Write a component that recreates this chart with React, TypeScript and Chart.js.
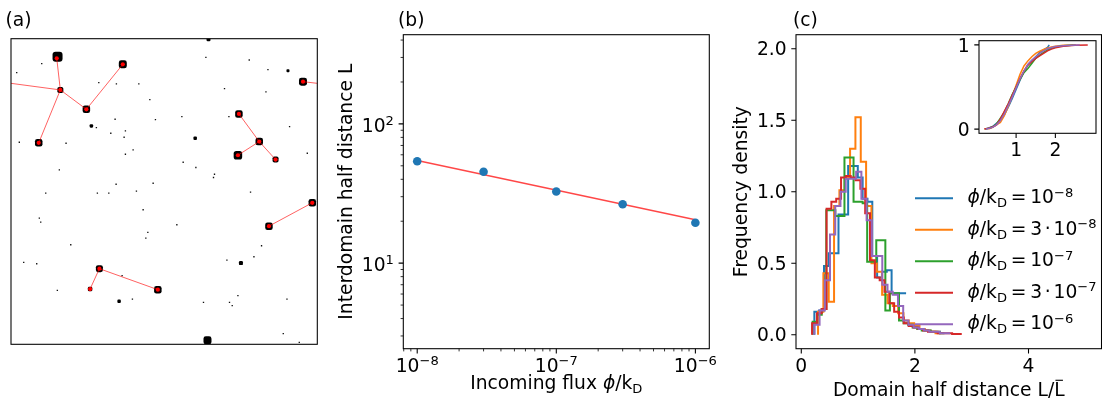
import React, { useEffect, useRef } from 'react';
import { Chart, registerables } from 'chart.js';

Chart.register(...registerables);

const FIG_W = 1102;
const FIG_H = 403;
const FONT = '"DejaVu Sans"';
const FS = 18.7;
const SERIES_COLORS = ['#1f77b4', '#ff7f0e', '#2ca02c', '#d62728', '#9467bd'];

// ---------------- panel (a): domain snapshot (box coordinates, y downwards) ----------------
const domainX = [46.5, 111.7, 49.3, 75.3, 27.7, 291.7, 227.7, 248, 226.7, 264.3, 301, 257.7, 88.3, 79, 146.7, 196.3, 197.3, 184, 80.3, 229.7, 108, 276.7];
const domainY = [18, 25.7, 51.3, 70.7, 104.3, 43, 75.3, 103, 116.7, 121, 164.3, 187.7, 230.3, 250.7, 251.3, 302, 0.5, 99.7, 87.3, 224.7, 263, 32];
const domainSide = [10, 8, 6, 7.5, 7.5, 8, 7.5, 7.5, 8.5, 6, 7.5, 7.5, 7, 4.5, 7.5, 8, 4, 3.5, 3.5, 4, 3.5, 3];
const dotX = [194.7, 238, 256.7, 30.7, 5.7, 87.7, 105.3, 127.7, 213.3, 254.7, 138.7, 170.7, 217.7, 144.3, 104, 278.3, 85.3, 114.3, 99.7, 113, 55, 8.3, 122, 114.3, 296, 172, 184.7, 48.3, 203.3, 202.3, 105, 142, 125.3, 34.7, 86.3, 97.7, 239.3, 132, 28.3, 29.7, 165.7, 136.7, 134.7, 59.7, 250.3, 242.7, 215.7, 12.7, 25.7, 111, 46.3, 121.3, 192.3, 226.7, 218.3, 221, 275.7, 272, 288];
const dotY = [18.7, 21.3, 31, 25, 34, 44, 45.3, 45.3, 50, 53.3, 61, 78, 78, 81, 80.7, 88, 89, 92.3, 94.7, 98.7, 104.7, 103.7, 111.3, 115.7, 114.7, 123.7, 129, 131.3, 135.7, 139, 145.7, 144.7, 152.7, 154.7, 154.7, 154.7, 153.7, 171.3, 179.7, 183.7, 186.3, 194, 199.7, 206.3, 207.3, 218.3, 221.7, 224, 225.3, 237.3, 252, 260.7, 264, 257.3, 264, 267.3, 260.7, 295.3, 304];
// domain centres (first 15 carry a red marker, last two are where links leave the box)
const nodeX = [45.7, 49.3, 27.7, 75.3, 111.7, 291.7, 227.7, 248, 226.7, 264.3, 301, 257.7, 88.3, 79, 146.7, 0, 306];
const nodeY = [19.7, 51.3, 104.3, 70.7, 25.7, 43, 75.3, 103, 116.7, 121, 164.3, 187.7, 230.3, 250.7, 251.3, 44.7, 44.7];
const MARKED_NODES = 15;
const linkFrom = [15, 0, 1, 1, 3, 5, 6, 7, 7, 10, 12, 12];
const linkTo = [1, 1, 2, 3, 4, 16, 7, 8, 9, 11, 14, 13];

// ---------------- panel (b): half distance vs flux ----------------
const fluxValues = [1e-8, 3e-8, 1e-7, 3e-7, 1e-6];
const halfDistance = [53.9, 45.3, 32.7, 26.5, 19.5];
const fitFlux = [1e-8, 1e-6];
const fitHalfDistance = [54.6, 20.5];
const bXMajor = [1e-8, 1e-7, 1e-6];
const bXLabels = ['−8', '−7', '−6'];
const bXMinor = [8e-9, 9e-9, 2e-8, 3e-8, 4e-8, 5e-8, 6e-8, 7e-8, 8e-8, 9e-8, 2e-7, 3e-7, 4e-7, 5e-7, 6e-7, 7e-7, 8e-7, 9e-7];
const bYMajor = [10, 100];
const bYLabels = ['1', '2'];
const bYMinor = [3, 4, 5, 6, 7, 8, 9, 20, 30, 40, 50, 60, 70, 80, 90, 200, 300, 400];

// ---------------- panel (c): histograms of L / mean L ----------------
const seriesLabels = ['1e-8', '3e-8', '1e-7', '3e-7', '1e-6'];
const seriesPrefix = ['', '3', '', '3', ''];
const seriesExponent = ['−8', '−8', '−7', '−7', '−6'];
const edges1e8 = [0.23, 0.315, 0.4, 0.485, 0.57, 0.655, 0.74, 0.825, 0.91, 0.995, 1.08, 1.165, 1.25, 1.335, 1.42, 1.505, 1.59, 1.675, 1.76, 1.845];
const dens1e8 = [0.16, 0.17, 0.48, 0.57, 0.57, 0.84, 0.84, 1.18, 1.18, 1.1, 0.95, 0.93, 0.55, 0.4, 0.44, 0.45, 0.29, 0.29, 0.29];
const edges3e8 = [0.295, 0.389, 0.483, 0.577, 0.671, 0.765, 0.859, 0.953, 1.047, 1.141, 1.235, 1.329, 1.423, 1.517, 1.611, 1.705, 1.799, 1.893, 1.987, 2.081, 2.175, 2.269, 2.363, 2.457];
const dens3e8 = [0.16, 0.43, 0.23, 0.9, 1.01, 1.1, 1.3, 1.52, 1.21, 0.9, 0.5, 0.44, 0.28, 0.22, 0.2, 0.15, 0.1, 0.08, 0.06, 0.04, 0.03, 0.02, 0.01];
const edges1e7 = [0.2, 0.28, 0.36, 0.44, 0.52, 0.6, 0.68, 0.76, 0.84, 0.92, 1.0, 1.08, 1.16, 1.24, 1.32, 1.4, 1.48, 1.56, 1.64, 1.72, 1.8, 1.88, 1.96, 2.04, 2.12, 2.2, 2.28, 2.36, 2.44, 2.52];
const dens1e7 = [0.09, 0.14, 0.18, 0.87, 0.87, 0.83, 0.83, 1.24, 1.24, 0.93, 0.93, 0.92, 0.51, 0.51, 0.66, 0.66, 0.17, 0.29, 0.29, 0.1, 0.08, 0.07, 0.05, 0.04, 0.03, 0.03, 0.02, 0.02, 0.01];
const edges3e7 = [0.19, 0.275, 0.36, 0.445, 0.53, 0.615, 0.7, 0.785, 0.87, 0.955, 1.04, 1.125, 1.21, 1.295, 1.38, 1.465, 1.55, 1.635, 1.72, 1.805, 1.89, 1.975, 2.06, 2.145, 2.23, 2.315, 2.4, 2.485, 2.57, 2.655, 2.74, 2.825];
const dens3e7 = [0.08, 0.15, 0.18, 0.88, 0.93, 0.95, 1.1, 1.11, 1.1, 1.08, 1.02, 0.85, 0.52, 0.4, 0.38, 0.3, 0.22, 0.16, 0.12, 0.08, 0.06, 0.05, 0.04, 0.03, 0.02, 0.02, 0.01, 0.01, 0.01, 0.005, 0.005];
const edges1e6 = [0.23, 0.322, 0.414, 0.506, 0.598, 0.69, 0.782, 0.874, 0.966, 1.058, 1.15, 1.242, 1.334, 1.426, 1.518, 1.61, 1.702, 1.794, 1.886, 1.978, 2.07, 2.162, 2.254, 2.346, 2.438, 2.53, 2.622];
const dens1e6 = [0.07, 0.17, 0.38, 0.7, 0.9, 1.0, 1.09, 1.09, 1.14, 0.95, 0.8, 0.55, 0.55, 0.35, 0.3, 0.28, 0.2, 0.1, 0.07, 0.05, 0.04, 0.03, 0.02, 0.02, 0.01, 0.01];
const cXMajor = [0, 2, 4];
const cXLabels = ['0', '2', '4'];
const cYMajor = [0, 0.5, 1, 1.5, 2];
const cYLabels = ['0.0', '0.5', '1.0', '1.5', '2.0'];

// ---------------- inset: cumulative distributions ----------------
const cdfX1e8 = [0.23, 0.3, 0.4, 0.5, 0.6, 0.7, 0.8, 0.9, 1.0, 1.1, 1.2, 1.3, 1.4, 1.5, 1.6, 1.7, 1.8, 1.845];
const cdfY1e8 = [0, 0.013, 0.03, 0.07, 0.11, 0.17, 0.26, 0.36, 0.47, 0.58, 0.68, 0.76, 0.81, 0.86, 0.91, 0.94, 0.97, 1.0];
const cdfX3e8 = [0.295, 0.4, 0.5, 0.6, 0.7, 0.8, 0.9, 1.0, 1.1, 1.2, 1.3, 1.4, 1.5, 1.6, 1.7, 1.8, 1.9, 2.0, 2.2, 2.457];
const cdfY3e8 = [0, 0.02, 0.05, 0.08, 0.16, 0.27, 0.39, 0.52, 0.65, 0.75, 0.81, 0.86, 0.9, 0.925, 0.945, 0.965, 0.975, 0.985, 0.995, 1.0];
const cdfX1e7 = [0.2, 0.3, 0.4, 0.5, 0.6, 0.7, 0.8, 0.9, 1.0, 1.1, 1.2, 1.3, 1.4, 1.5, 1.6, 1.7, 1.8, 1.9, 2.0, 2.2, 2.52];
const cdfY1e7 = [0, 0.01, 0.025, 0.06, 0.13, 0.2, 0.3, 0.41, 0.5, 0.59, 0.67, 0.72, 0.78, 0.84, 0.88, 0.91, 0.94, 0.96, 0.975, 0.99, 1.0];
const cdfX3e7 = [0.19, 0.3, 0.4, 0.5, 0.6, 0.7, 0.8, 0.9, 1.0, 1.1, 1.2, 1.3, 1.4, 1.5, 1.6, 1.7, 1.8, 1.9, 2.0, 2.2, 2.5, 2.825];
const cdfY3e7 = [0, 0.01, 0.025, 0.05, 0.12, 0.21, 0.3, 0.4, 0.5, 0.6, 0.69, 0.76, 0.8, 0.84, 0.87, 0.9, 0.93, 0.95, 0.965, 0.985, 0.995, 1.0];
const cdfX1e6 = [0.23, 0.3, 0.4, 0.5, 0.6, 0.7, 0.8, 0.9, 1.0, 1.1, 1.2, 1.3, 1.4, 1.5, 1.6, 1.7, 1.8, 1.9, 2.0, 2.2, 2.4, 2.622];
const cdfY1e6 = [0, 0.008, 0.02, 0.05, 0.1, 0.18, 0.28, 0.38, 0.49, 0.6, 0.69, 0.77, 0.82, 0.86, 0.9, 0.93, 0.955, 0.97, 0.98, 0.99, 0.996, 1.0];
const insetXMajor = [1, 2];
const insetYMajor = [0, 1];

// ---------------- layout boxes (figure pixels) ----------------
type Box = { l: number; t: number; r: number; b: number };
const BOX_A: Box = { l: 11, t: 38.7, r: 317.3, b: 344.3 };
const BOX_B: Box = { l: 403.3, t: 34.7, r: 709.3, b: 348.7 };
const BOX_C: Box = { l: 796, t: 34.7, r: 1101.5, b: 348.7 };
const BOX_I: Box = { l: 979, t: 40.7, r: 1096, b: 133.3 };

const MAJOR_LEN = 4.7;
const MINOR_LEN = 2.7;

// ---------------- rich text helpers ----------------
type Seg = { t: string; k?: 'i' | 'sup' | 'sub' | 'bar' | 'sp'; w?: number };
type Align = 'left' | 'center' | 'right';

function segFont(s: Seg, size: number): string {
  const small = s.k === 'sup' || s.k === 'sub';
  return `${s.k === 'i' ? 'italic ' : ''}${(small ? size * 0.7 : size).toFixed(2)}px ${FONT}`;
}

function segWidth(ctx: CanvasRenderingContext2D, s: Seg, size: number): number {
  if (s.k === 'sp') return (s.w || 0) * size;
  ctx.font = segFont(s, size);
  return ctx.measureText(s.t).width;
}

function richWidth(ctx: CanvasRenderingContext2D, segs: Seg[], size: number): number {
  let w = 0;
  for (const s of segs) w += segWidth(ctx, s, size);
  return w;
}

function drawRich(ctx: CanvasRenderingContext2D, segs: Seg[], x: number, y: number, align: Align, size = FS, rot = 0) {
  ctx.save();
  ctx.translate(x, y);
  if (rot) ctx.rotate(rot);
  ctx.fillStyle = '#000';
  ctx.textAlign = 'left';
  ctx.textBaseline = 'alphabetic';
  const w = richWidth(ctx, segs, size);
  let cx = align === 'left' ? 0 : align === 'center' ? -w / 2 : -w;
  for (const s of segs) {
    const sw = segWidth(ctx, s, size);
    if (s.k !== 'sp') {
      ctx.font = segFont(s, size);
      const dy = s.k === 'sup' ? -0.36 * size : s.k === 'sub' ? 0.22 * size : 0;
      ctx.fillText(s.t, cx, dy);
      if (s.k === 'bar') ctx.fillRect(cx + 0.12 * sw, -0.87 * size, 0.72 * sw, 1.1);
    }
    cx += sw;
  }
  ctx.restore();
}

function drawSpines(ctx: CanvasRenderingContext2D, chart: Chart) {
  const a = chart.chartArea;
  ctx.save();
  ctx.strokeStyle = '#000';
  ctx.lineWidth = 1.07;
  ctx.strokeRect(a.left, a.top, a.right - a.left, a.bottom - a.top);
  ctx.restore();
}

function drawXTicks(ctx: CanvasRenderingContext2D, chart: Chart, values: number[], len: number, lw: number) {
  const sc = chart.scales.x;
  const b = chart.chartArea.bottom;
  ctx.save();
  ctx.strokeStyle = '#000';
  ctx.lineWidth = lw;
  ctx.beginPath();
  for (const v of values) {
    const p = sc.getPixelForValue(v);
    ctx.moveTo(p, b);
    ctx.lineTo(p, b + len);
  }
  ctx.stroke();
  ctx.restore();
}

function drawYTicks(ctx: CanvasRenderingContext2D, chart: Chart, values: number[], len: number, lw: number) {
  const sc = chart.scales.y;
  const l = chart.chartArea.left;
  ctx.save();
  ctx.strokeStyle = '#000';
  ctx.lineWidth = lw;
  ctx.beginPath();
  for (const v of values) {
    const p = sc.getPixelForValue(v);
    ctx.moveTo(l, p);
    ctx.lineTo(l - len, p);
  }
  ctx.stroke();
  ctx.restore();
}

function xLabelY(chart: Chart) {
  return chart.chartArea.bottom + 23;
}
function yLabelX(chart: Chart) {
  return chart.chartArea.left - 9.4;
}

function padding(box: Box) {
  return { left: box.l, top: box.t, right: FIG_W - box.r, bottom: FIG_H - box.b };
}

function baseOptions(box: Box, xScale: any, yScale: any) {
  return {
    responsive: false,
    maintainAspectRatio: false,
    animation: false as const,
    devicePixelRatio: 1,
    events: [] as any[],
    layout: { padding: padding(box), autoPadding: false },
    plugins: { legend: { display: false }, tooltip: { enabled: false }, title: { display: false } },
    scales: {
      x: { ...xScale, display: false },
      y: { ...yScale, display: false },
    },
  };
}

function stepPoints(edges: number[], heights: number[]) {
  const pts = [{ x: edges[0], y: 0 }];
  heights.forEach((h, i) => pts.push({ x: edges[i], y: h }));
  pts.push({ x: edges[heights.length], y: heights[heights.length - 1] });
  return pts;
}

function xy(xs: number[], ys: number[]) {
  return xs.map((x, i) => ({ x, y: ys[i] }));
}

// ---------------- chart builders ----------------
function makePanelA(canvas: HTMLCanvasElement) {
  const linkSets = linkFrom.map((f, i) => ({
    type: 'scatter' as const,
    data: [
      { x: nodeX[f], y: nodeY[f] },
      { x: nodeX[linkTo[i]], y: nodeY[linkTo[i]] },
    ],
    showLine: true,
    borderColor: 'rgba(255,0,0,0.62)',
    borderWidth: 1,
    pointRadius: 0,
    clip: 0,
    order: 1,
  }));
  return new Chart(canvas, {
    type: 'scatter',
    data: {
      datasets: [
        {
          data: xy(nodeX.slice(0, MARKED_NODES), nodeY.slice(0, MARKED_NODES)),
          pointRadius: 2.1,
          pointStyle: 'circle',
          backgroundColor: '#ff0000',
          borderWidth: 0,
          clip: 0,
          order: 0,
        },
        ...linkSets,
        {
          data: xy(domainX, domainY),
          pointRadius: domainSide.map((s) => s / 1.716),
          pointStyle: 'rectRounded',
          backgroundColor: '#000',
          borderWidth: 0,
          clip: 0,
          order: 2,
        },
        {
          data: xy(dotX, dotY),
          pointRadius: 0.95,
          pointStyle: 'rect',
          backgroundColor: '#111',
          borderWidth: 0,
          clip: 0,
          order: 3,
        },
      ] as any,
    },
    options: baseOptions(BOX_A, { type: 'linear', min: 0, max: 306 }, { type: 'linear', min: 0, max: 306, reverse: true }) as any,
    plugins: [
      {
        id: 'decorA',
        afterDraw(chart: Chart) {
          const ctx = chart.ctx;
          drawSpines(ctx, chart);
          drawRich(ctx, [{ t: '(a)' }], 5.5, 25.5, 'left');
        },
      },
    ],
  });
}

function makePanelB(canvas: HTMLCanvasElement) {
  return new Chart(canvas, {
    type: 'scatter',
    data: {
      datasets: [
        {
          data: xy(fluxValues, halfDistance),
          pointRadius: 4.3,
          backgroundColor: '#1f77b4',
          borderWidth: 0,
          order: 0,
        },
        {
          data: xy(fitFlux, fitHalfDistance),
          showLine: true,
          borderColor: 'rgba(255,0,0,0.72)',
          borderWidth: 1.5,
          pointRadius: 0,
          order: 1,
        },
      ] as any,
    },
    options: baseOptions(
      BOX_B,
      { type: 'logarithmic', min: Math.pow(10, -8.1), max: Math.pow(10, -5.9) },
      { type: 'logarithmic', min: 2.43, max: 437 },
    ) as any,
    plugins: [
      {
        id: 'decorB',
        afterDraw(chart: Chart) {
          const ctx = chart.ctx;
          drawSpines(ctx, chart);
          drawXTicks(ctx, chart, bXMinor, MINOR_LEN, 0.8);
          drawXTicks(ctx, chart, bXMajor, MAJOR_LEN, 1.07);
          drawYTicks(ctx, chart, bYMinor, MINOR_LEN, 0.8);
          drawYTicks(ctx, chart, bYMajor, MAJOR_LEN, 1.07);
          bXMajor.forEach((v, i) => {
            drawRich(ctx, [{ t: '10' }, { t: bXLabels[i], k: 'sup' }], chart.scales.x.getPixelForValue(v), xLabelY(chart), 'center');
          });
          bYMajor.forEach((v, i) => {
            drawRich(ctx, [{ t: '10' }, { t: bYLabels[i], k: 'sup' }], yLabelX(chart), chart.scales.y.getPixelForValue(v) + 7.9, 'right');
          });
          drawRich(ctx, [{ t: 'Incoming flux ' }, { t: 'ϕ', k: 'i' }, { t: '/k' }, { t: 'D', k: 'sub' }], (chart.chartArea.left + chart.chartArea.right) / 2, 388.5, 'center');
          drawRich(ctx, [{ t: 'Interdomain half distance L' }], 351.5, (chart.chartArea.top + chart.chartArea.bottom) / 2, 'center', FS, -Math.PI / 2);
          drawRich(ctx, [{ t: '(b)' }], 398, 25.5, 'left');
        },
      },
    ],
  });
}

const histEdges = [edges1e8, edges3e8, edges1e7, edges3e7, edges1e6];
const histDens = [dens1e8, dens3e8, dens1e7, dens3e7, dens1e6];

function legendSegs(i: number): Seg[] {
  const segs: Seg[] = [{ t: 'ϕ', k: 'i' }, { t: '/k' }, { t: 'D', k: 'sub' }, { t: '', k: 'sp', w: 0.2 }, { t: '=' }, { t: '', k: 'sp', w: 0.2 }];
  if (seriesPrefix[i]) {
    segs.push({ t: seriesPrefix[i] }, { t: '', k: 'sp', w: 0.15 }, { t: '·' }, { t: '', k: 'sp', w: 0.15 });
  }
  segs.push({ t: '10' }, { t: seriesExponent[i], k: 'sup' });
  return segs;
}

function makePanelC(canvas: HTMLCanvasElement) {
  return new Chart(canvas, {
    type: 'line',
    data: {
      datasets: seriesLabels.map((label, i) => ({
        label,
        data: stepPoints(histEdges[i], histDens[i]),
        stepped: 'before',
        borderColor: SERIES_COLORS[i],
        borderWidth: 2,
        pointRadius: 0,
        fill: false,
        order: 5 - i,
      })) as any,
    },
    options: baseOptions(BOX_C, { type: 'linear', min: -0.093, max: 5.285 }, { type: 'linear', min: -0.098, max: 2.098 }) as any,
    plugins: [
      {
        id: 'decorC',
        afterDraw(chart: Chart) {
          const ctx = chart.ctx;
          drawSpines(ctx, chart);
          drawXTicks(ctx, chart, cXMajor, MAJOR_LEN, 1.07);
          drawYTicks(ctx, chart, cYMajor, MAJOR_LEN, 1.07);
          cXMajor.forEach((v, i) => drawRich(ctx, [{ t: cXLabels[i] }], chart.scales.x.getPixelForValue(v), xLabelY(chart), 'center'));
          cYMajor.forEach((v, i) => drawRich(ctx, [{ t: cYLabels[i] }], yLabelX(chart), chart.scales.y.getPixelForValue(v) + 6.7, 'right'));
          drawRich(ctx, [{ t: 'Domain half distance L/' }, { t: 'L', k: 'bar' }], (chart.chartArea.left + chart.chartArea.right) / 2, 396, 'center');
          drawRich(ctx, [{ t: 'Frequency density' }], 746.5, (chart.chartArea.top + chart.chartArea.bottom) / 2, 'center', FS, -Math.PI / 2);
          drawRich(ctx, [{ t: '(c)' }], 793, 25.5, 'left');
          // legend
          seriesLabels.forEach((_, i) => {
            const ly = 198.3 + i * 31.5;
            ctx.save();
            ctx.strokeStyle = SERIES_COLORS[i];
            ctx.lineWidth = 2;
            ctx.beginPath();
            ctx.moveTo(915, ly);
            ctx.lineTo(953, ly);
            ctx.stroke();
            ctx.restore();
            drawRich(ctx, legendSegs(i), 967.5, ly + 5, 'left');
          });
        },
      },
    ],
  });
}

const cdfXs = [cdfX1e8, cdfX3e8, cdfX1e7, cdfX3e7, cdfX1e6];
const cdfYs = [cdfY1e8, cdfY3e8, cdfY1e7, cdfY3e7, cdfY1e6];

function makeInset(canvas: HTMLCanvasElement) {
  return new Chart(canvas, {
    type: 'line',
    data: {
      datasets: seriesLabels.map((label, i) => ({
        label,
        data: xy(cdfXs[i], cdfYs[i]),
        borderColor: SERIES_COLORS[i],
        borderWidth: 1.5,
        pointRadius: 0,
        tension: 0,
        fill: false,
        order: 5 - i,
      })) as any,
    },
    options: baseOptions(BOX_I, { type: 'linear', min: 0.055, max: 3.035 }, { type: 'linear', min: -0.05, max: 1.05 }) as any,
    plugins: [
      {
        id: 'decorI',
        afterDraw(chart: Chart) {
          const ctx = chart.ctx;
          drawSpines(ctx, chart);
          drawXTicks(ctx, chart, insetXMajor, MAJOR_LEN, 1.07);
          drawYTicks(ctx, chart, insetYMajor, MAJOR_LEN, 1.07);
          insetXMajor.forEach((v) => drawRich(ctx, [{ t: String(v) }], chart.scales.x.getPixelForValue(v), xLabelY(chart), 'center'));
          insetYMajor.forEach((v) => drawRich(ctx, [{ t: String(v) }], yLabelX(chart), chart.scales.y.getPixelForValue(v) + 6.7, 'right'));
        },
      },
    ],
  });
}

export default function App() {
  const refA = useRef<HTMLCanvasElement>(null);
  const refB = useRef<HTMLCanvasElement>(null);
  const refC = useRef<HTMLCanvasElement>(null);
  const refI = useRef<HTMLCanvasElement>(null);

  useEffect(() => {
    const charts: Chart[] = [];
    if (refA.current) charts.push(makePanelA(refA.current));
    if (refB.current) charts.push(makePanelB(refB.current));
    if (refC.current) charts.push(makePanelC(refC.current));
    if (refI.current) charts.push(makeInset(refI.current));
    return () => charts.forEach((c) => c.destroy());
  }, []);

  const layer: React.CSSProperties = { position: 'absolute', left: 0, top: 0, width: FIG_W, height: FIG_H };
  return (
    <div style={{ position: 'absolute', left: 0, top: 0, width: FIG_W, height: FIG_H, background: '#fff', overflow: 'hidden' }}>
      <canvas ref={refA} width={FIG_W} height={FIG_H} style={layer} />
      <canvas ref={refB} width={FIG_W} height={FIG_H} style={layer} />
      <canvas ref={refC} width={FIG_W} height={FIG_H} style={layer} />
      <canvas ref={refI} width={FIG_W} height={FIG_H} style={layer} />
    </div>
  );
}
